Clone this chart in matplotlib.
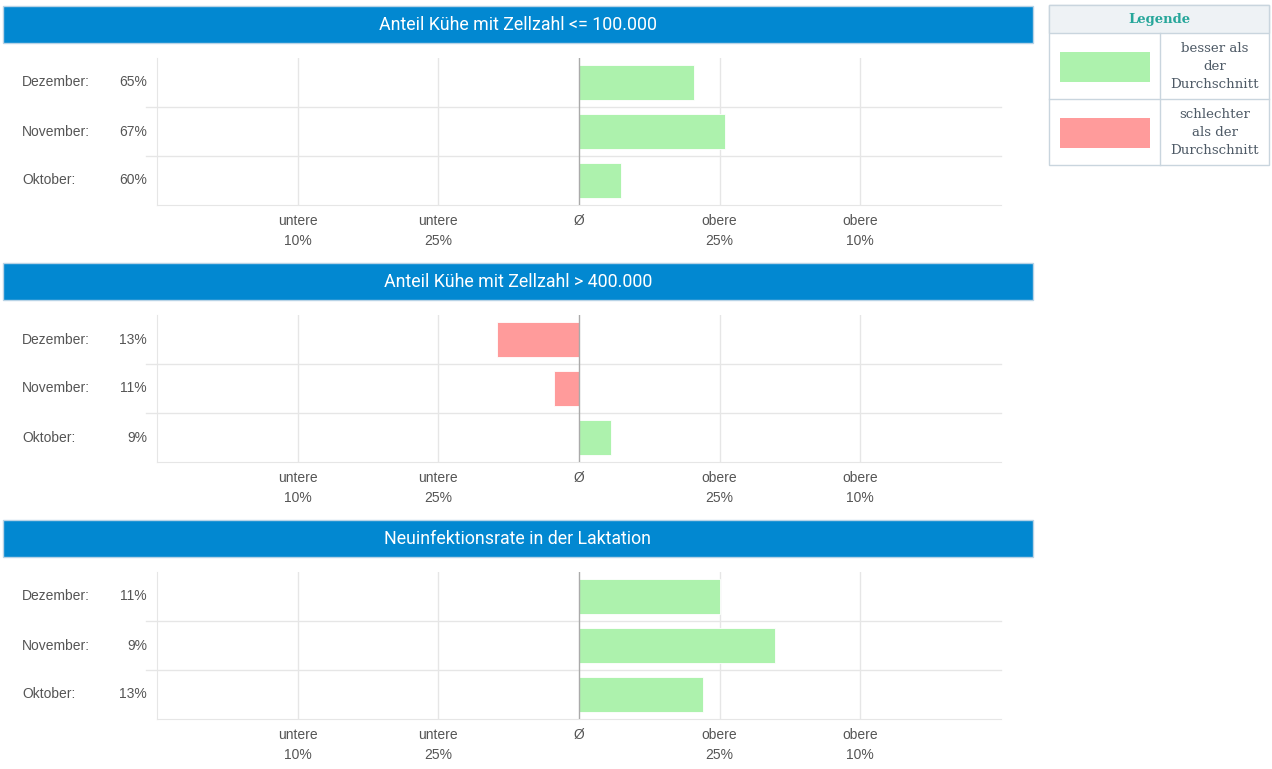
import matplotlib
matplotlib.use("Agg")
import matplotlib.pyplot as plt
from matplotlib.patches import Rectangle
from matplotlib.transforms import blended_transform_factory

# ---------------- data ----------------
panel_titles = ["Anteil Kühe mit Zellzahl <= 100.000",
                "Anteil Kühe mit Zellzahl > 400.000",
                "Neuinfektionsrate in der Laktation"]
months = ["Dezember:", "November:", "Oktober:"]
values_1 = ["65%", "67%", "60%"]
scores_1 = [0.82, 1.04, 0.30]
values_2 = ["13%", "11%", "9%"]
scores_2 = [-0.58, -0.18, 0.23]
values_3 = ["11%", "9%", "13%"]
scores_3 = [1.00, 1.39, 0.88]
tick_positions = [-2, -1, 0, 1, 2]
tick_labels = ["untere\n10%", "untere\n25%", "Ø", "obere\n25%", "obere\n10%"]
legend_labels = ["besser als\nder\nDurchschnitt", "schlechter\nals der\nDurchschnitt"]

panel_values = [values_1, values_2, values_3]
panel_scores = [scores_1, scores_2, scores_3]

GREEN = "#adf2ad"
RED = "#ff9b9b"
BLUE = "#0288d1"
GRID = "#e6e6e6"
TXT = "#555555"

W, H = 1272, 769
fig = plt.figure(figsize=(W / 100, H / 100), dpi=100)
fig.patch.set_facecolor("white")

# overlay in pixel coordinates
ov = fig.add_axes([0, 0, 1, 1])
ov.set_xlim(0, W)
ov.set_ylim(H, 0)
ov.axis("off")
ov.set_zorder(0)


def fax(x0, y0, x1, y1):
    return [x0 / W, 1 - y1 / H, (x1 - x0) / W, (y1 - y0) / H]


for i in range(3):
    dy = i * 257
    # header
    ov.add_patch(Rectangle((3, 6 + dy), 1030, 37, facecolor=BLUE,
                           edgecolor="#b8d3e6", lw=1))
    ov.text(518, 25 + dy, panel_titles[i], color="white", ha="center",
            va="center", fontsize=12.8, family="Roboto", fontweight="normal")

    ax = fig.add_axes(fax(157, 58 + dy, 1001, 205 + dy))
    ax.set_zorder(1)
    ax.patch.set_alpha(0)
    ypos = [2, 1, 0]
    sc = panel_scores[i]
    colors = [GREEN if s > 0 else RED for s in sc]
    ax.barh(ypos, sc, height=0.71, color=colors, edgecolor="white",
            linewidth=0.6, zorder=2)
    ax.set_xlim(-3, 3)
    ax.set_ylim(-0.5, 2.5)
    for t in [-2, -1, 1, 2]:
        ax.axvline(t, color=GRID, lw=1, zorder=1)
    ax.axvline(0, color="#aaaaaa", lw=1, zorder=3)
    for yy in [0.5, 1.5]:
        ax.plot([-3 - 11 / 140.5, 3], [yy, yy], color=GRID, lw=1,
                clip_on=False, zorder=1)
    for s in ["top", "right"]:
        ax.spines[s].set_visible(False)
    for s in ["left", "bottom"]:
        ax.spines[s].set_color(GRID)
    ax.set_yticks([])
    ax.set_xticks(tick_positions, tick_labels)
    ax.tick_params(axis="x", length=0, pad=6.5, labelsize=10, labelcolor=TXT)
    for lab in ax.get_xticklabels():
        lab.set_linespacing(1.55)
        lab.set_family("Liberation Sans")

    tr = blended_transform_factory(ov.transData, ax.transData)
    for k in range(3):
        ax.text(22, ypos[k], months[k], transform=tr, ha="left", va="center",
                fontsize=10, color=TXT, family="Liberation Sans")
        ax.text(147, ypos[k], panel_values[i][k], transform=tr, ha="right",
                va="center", fontsize=10, color=TXT, family="Liberation Sans")

# ---------------- legend ----------------
BORDER = "#c9d5de"
ov.add_patch(Rectangle((1049, 5), 220, 160, facecolor="white",
                       edgecolor=BORDER, lw=1))
ov.add_patch(Rectangle((1049, 5), 220, 28, facecolor="#eef2f5",
                       edgecolor=BORDER, lw=1))
ov.plot([1049, 1269], [99, 99], color=BORDER, lw=1)
ov.plot([1160, 1160], [33, 165], color=BORDER, lw=1)
ov.text(1159, 19.5, "Legende", ha="center", va="center", fontsize=9.5,
        fontweight="bold", color="#26a69a", family="DejaVu Serif")
for j, (col, lab) in enumerate(zip([GREEN, RED], legend_labels)):
    y0 = 33 + j * 66
    ov.add_patch(Rectangle((1060, y0 + 19), 90, 30, facecolor=col,
                           edgecolor="none"))
    ov.text(1215, y0 + 33.5, lab, ha="center", va="center", fontsize=9.6,
            color="#4e5a66", family="DejaVu Serif", linespacing=1.5)

fig.savefig("out.png", dpi=100, facecolor="white")
